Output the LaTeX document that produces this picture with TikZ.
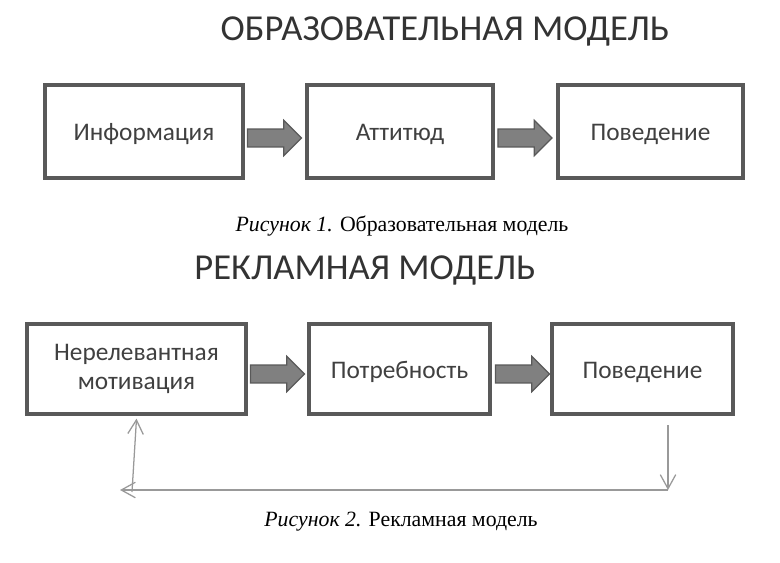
\documentclass[tikz,border=0pt]{standalone}
\usepackage{fontspec}
\setmainfont{Liberation Serif}
\newfontfamily\boxfont{Carlito}
\usetikzlibrary{positioning, arrows.meta, shapes.arrows}

\begin{document}
\begin{tikzpicture}[x=0.025cm, y=-0.025cm,
        box/.style={% For the model boxes
            rectangle,
            draw=black!65,
            line width=2.6pt,
            fill=white,
            align=center,
            text=black!75,
            font=\boxfont\fontsize{18}{21}\selectfont,
            minimum height=2.3cm,
            },
        oneline/.style={% Single line text, set a little lower
            text height=1.3em, text depth=0pt,
            },
        heading/.style={% For the model titles
            text=black!80,
            font=\boxfont\fontsize{26}{31}\selectfont,
            },
        caption/.style={% For the figure captions
            font=\fontsize{15.5}{18}\selectfont,
            },
        blockarrow/.style={% Fat arrows between boxes
            single arrow,
            draw=black!65,
            fill=black!50,
            line width=0.8pt,
            minimum height=1.35cm,
            text height=0pt, text depth=0pt,
            inner xsep=0pt, inner ysep=0.21cm,
            single arrow head extend=0.22cm,
            },
        thinarrow/.style={% Thin feedback arrows
            draw=black!40,
            line width=0.9pt,
            -{Straight Barb[length=10pt,width=11pt]},
            },
            ]
        \useasboundingbox (0,0) rectangle (780,563);
        % First model
        \node[heading] (t1) at (445,31) {ОБРАЗОВАТЕЛЬНАЯ МОДЕЛЬ};
        \node[box, oneline, minimum width=4.95cm, minimum height=2.325cm] (b1) at (144,131.5) {Информация};
        \node[box, oneline, minimum width=4.65cm, minimum height=2.325cm] (b2) at (400,131.5) {Аттитюд};
        \node[box, oneline, minimum width=4.625cm, minimum height=2.325cm] (b3) at (650.5,131.5) {Поведение};
        \node[blockarrow] (a1) at (270,138) {};
        \node[blockarrow] (a2) at (520.5,138) {};
        \node[caption] (cap1) at (402,226) {\textit{Рисунок 1.} Образовательная модель};
        % Second model
        \node[heading] (t2) at (365,270) {РЕКЛАМНАЯ МОДЕЛЬ};
        \node[box, minimum width=5.475cm, minimum height=2.25cm] (b4) at (136.5,369) {Нерелевантная\\мотивация};
        \node[box, oneline, minimum width=4.525cm, minimum height=2.25cm] (b5) at (399.5,369) {Потребность};
        \node[box, oneline, minimum width=4.525cm, minimum height=2.25cm] (b6) at (642.5,369) {Поведение};
        \node[blockarrow] (a3) at (273,374) {};
        \node[blockarrow] (a4) at (518,374) {};
        \node[caption] (cap2) at (401,522) {\textit{Рисунок 2.} Рекламная модель};
        % Feedback loop
        \coordinate (f1) at (668,425);
        \coordinate (f2) at (668,490);
        \coordinate (f3) at (120,490);
        \coordinate (f4) at (132,492);
        \draw[thinarrow] (f1) -- (f2);
        \draw[thinarrow] (f2) -- (f3);
        \draw[thinarrow] (f4) -- ([yshift=-2pt]b4.south);
\end{tikzpicture}
\end{document}
